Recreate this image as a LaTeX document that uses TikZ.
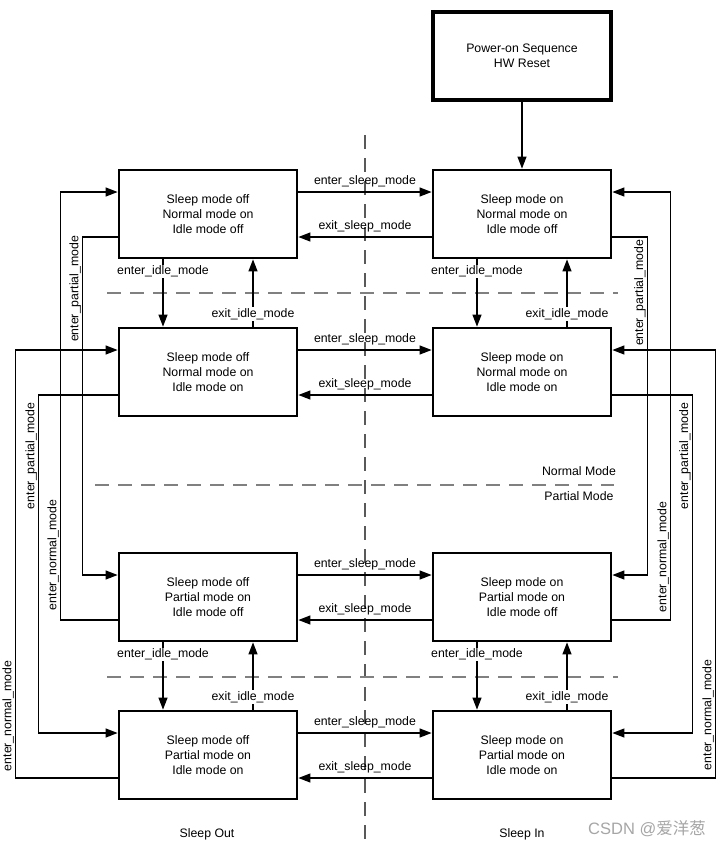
\documentclass[tikz,border=0pt]{standalone}
\usepackage{fontspec}
\setmainfont{Liberation Sans}
\newfontfamily\cjkfont{Noto Sans CJK SC}
\usetikzlibrary{arrows.meta,calc}
\begin{document}
\begin{tikzpicture}[x=1pt,y=-1pt,
  every node/.style={font=\fontsize{12.3}{15}\selectfont},
  state/.style={draw,line width=2.8pt,minimum width=178pt,minimum height=88pt,inner sep=0pt,align=center},
  powerbox/.style={state,line width=3.8pt},
  conn/.style={line width=1.2pt},
  arr/.style={conn,-{Triangle[length=12pt,width=9pt]}},
  lbl/.style={inner sep=1pt},
  vlbl/.style={inner sep=1.5pt,rotate=90,anchor=south},
  idl/.style={fill=white,inner sep=1pt},
  hdash/.style={line width=1.3pt,draw=black!50,dash pattern=on 14pt off 9pt},
  vdash/.style={line width=1.2pt,draw=black!65,dash pattern=on 14pt off 9pt}]
\useasboundingbox[fill=white] (0,0) rectangle (728,847);

% separators
\draw[vdash] (365,135) coordinate (vt) -- (365,842) coordinate (vb);
\draw[hdash] (107,293) coordinate (h1a) -- (618,293) coordinate (h1b);
\draw[hdash] (95,485) coordinate (h2a) -- (614,485) coordinate (h2b);
\draw[hdash] (107,677) coordinate (h3a) -- (618,677) coordinate (h3b);

% states
\node[powerbox] (P) at (522,56) {Power-on Sequence\\HW Reset};
\node[state] (A) at (208,214) {Sleep mode off\\Normal mode on\\Idle mode off};
\node[state] (AR) at (522,214) {Sleep mode on\\Normal mode on\\Idle mode off};
\node[state] (B) at (208,372) {Sleep mode off\\Normal mode on\\Idle mode on};
\node[state] (BR) at (522,372) {Sleep mode on\\Normal mode on\\Idle mode on};
\node[state] (C) at (208,597) {Sleep mode off\\Partial mode on\\Idle mode off};
\node[state] (CR) at (522,597) {Sleep mode on\\Partial mode on\\Idle mode off};
\node[state] (D) at (208,755) {Sleep mode off\\Partial mode on\\Idle mode on};
\node[state] (DR) at (522,755) {Sleep mode on\\Partial mode on\\Idle mode on};

\draw[arr] (P) -- (AR);

% sleep transitions
\foreach \l/\r in {A/AR,B/BR,C/CR,D/DR}{
  \draw[arr] ([yshift=22pt]\l.east) -- node[lbl,above=3pt] {enter\_sleep\_mode} ([yshift=22pt]\r.west);
  \draw[arr] ([yshift=-23pt]\r.west) -- node[lbl,above=3pt] {exit\_sleep\_mode} ([yshift=-23pt]\l.east);
}

% idle transitions
\foreach \t/\b in {A/B,AR/BR,C/D,CR/DR}{
  \draw[arr] ([xshift=-45pt]\t.south) -- node[idl,pos=0.18] {enter\_idle\_mode} ([xshift=-45pt]\b.north);
  \draw[arr] ([xshift=45pt]\b.north) -- node[idl,pos=0.19] {exit\_idle\_mode} ([xshift=45pt]\t.south);
}

% left side mode transitions
\draw[arr] ([yshift=-23pt]C.west) -- ++(-57,0) coordinate (l1) |- ([yshift=22pt]A.west);
\draw[arr] ([yshift=-23pt]A.west) -- ++(-35,0) coordinate (l2) |- ([yshift=22pt]C.west);
\draw[arr] ([yshift=-23pt]D.west) -- ++(-102,0) coordinate (l3) |- ([yshift=22pt]B.west);
\draw[arr] ([yshift=-23pt]B.west) -- ++(-79,0) coordinate (l4) |- ([yshift=22pt]D.west);
\node[vlbl] (tl2) at (l2 |- 0,289) {enter\_partial\_mode};
\node[vlbl] (tl1) at (l1 |- 0,555) {enter\_normal\_mode};
\node[vlbl] (tl4) at (l4 |- 0,456) {enter\_partial\_mode};
\node[vlbl] (tl3) at (l3 |- 0,716) {enter\_normal\_mode};

% right side mode transitions
\draw[arr] ([yshift=-23pt]CR.east) -- ++(58,0) coordinate (r1) |- ([yshift=22pt]AR.east);
\draw[arr] ([yshift=-23pt]AR.east) -- ++(35,0) coordinate (r2) |- ([yshift=22pt]CR.east);
\draw[arr] ([yshift=-23pt]DR.east) -- ++(103,0) coordinate (r3) |- ([yshift=22pt]BR.east);
\draw[arr] ([yshift=-23pt]BR.east) -- ++(80,0) coordinate (r4) |- ([yshift=22pt]DR.east);
\node[vlbl] (tr2) at (r2 |- 0,293) {enter\_partial\_mode};
\node[vlbl] (tr1) at (r1 |- 0,557) {enter\_normal\_mode};
\node[vlbl] (tr4) at (r4 |- 0,456) {enter\_partial\_mode};
\node[vlbl] (tr3) at (r3 |- 0,715) {enter\_normal\_mode};

% region labels
\node (nm) at (579,471) {Normal Mode};
\node (pm) at (579,496) {Partial Mode};
\node (so) at (207,834) {Sleep Out};
\node (si) at (522,834) {Sleep In};
\node[text=black!35,font=\fontsize{16.5}{19}\selectfont] (wm) at (647,829) {CSDN @{\cjkfont 爱洋葱}};
\end{tikzpicture}
\end{document}
